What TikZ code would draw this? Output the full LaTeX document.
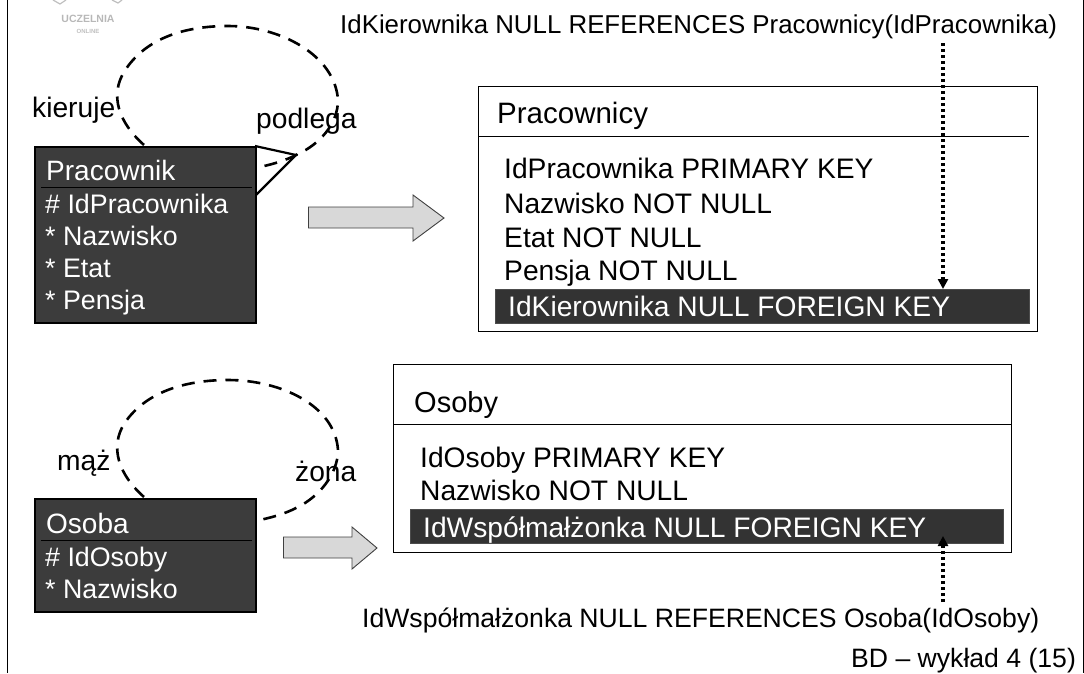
\documentclass[tikz,border=0pt]{standalone}
\usepackage{fontspec}
\setmainfont{Liberation Sans}
\usetikzlibrary{arrows.meta}
\definecolor{dkfill}{HTML}{3C3C3C}
\definecolor{dkbar}{HTML}{333333}
\definecolor{blkfill}{HTML}{D8D8D8}
\tikzset{
  x=1pt,y=-1pt,
  txt/.style={anchor=base west,inner sep=0,font=\fontsize{28.2}{30}\selectfont,text=black},
  reftxt/.style={txt,font=\fontsize{26.6}{30}\selectfont},
  ttl/.style={txt,font=\fontsize{29.5}{30}\selectfont},
  wtxt/.style={txt,text=white},
  wtxts/.style={txt,text=white,font=\fontsize{26.8}{30}\selectfont},
  dk/.style={draw=black,line width=2.4pt,fill=dkfill},
  tbl/.style={draw=black,line width=1.2pt,fill=white},
  bar/.style={draw=black!70,line width=.7pt,fill=dkbar},
  rel/.style={draw=black,line width=2.6pt,dash pattern=on 13pt off 9pt},
  blk/.style={draw=black!75,line width=.9pt,fill=blkfill},
  dots/.style={draw=black,line width=3.2pt,dash pattern=on 3pt off 3pt,-{Triangle[length=10pt,width=10pt]}},
  sep/.style={draw=black,line width=.8pt},
  logoline/.style={draw=black!25,line width=1.2pt}
}
\begin{document}
\begin{tikzpicture}
\useasboundingbox (0,0) rectangle (1084,673);
% page frame lines
\draw[black,line width=1pt] (7.5,0) -- (7.5,673);
\draw[black,line width=1pt] (1083,0) -- (1083,673);
% logo
\draw[logoline] (53,0) -- (60,4) -- (66,0);
\draw[logoline] (112,0) -- (118,3) -- (122,0);
\node[inner sep=0,text=black!28,font=\fontsize{10.5}{11}\selectfont\bfseries] (logo1) at (88,19) {UCZELNIA};
\node[inner sep=0,text=black!25,font=\fontsize{6}{7}\selectfont\bfseries] (logo2) at (88,31) {ONLINE};
% upper loop
\draw[rel] (144,145) .. controls (118,122) and (110,95) .. (124,72)
  .. controls (145,38) and (185,26) .. (228,26)
  .. controls (280,26) and (335,55) .. (338,100)
  .. controls (338,125) and (318,145) .. (298,154)
  .. controls (285,161) and (270,165) .. (255,168);
% triangle
\draw[black,line width=2.2pt] (255,146) -- (296,155) -- (255,196);
% Pracownik
\node[dk,minimum width=221pt,minimum height=176pt,inner sep=0,anchor=north west] (prac) at (33.5,146) {};
\draw[black,line width=.8pt] (41,187.7) -- (252,187.7);
\node[wtxts,font=\fontsize{28}{30}\selectfont] (p0) at (46,180) {Pracownik};
\node[wtxts] (p1) at (45,213) {\# IdPracownika};
\node[wtxts] (p2) at (45,245) {* Nazwisko};
\node[wtxts] (p3) at (45,277) {* Etat};
\node[wtxts] (p4) at (45,309) {* Pensja};
\node[txt] (kier) at (32,117) {kieruje};
\node[txt] (podl) at (256,128) {podlega};
% arrow 1
\draw[blk] (308.5,207) -- (413,207) -- (413,195) -- (444,218) -- (413,241) -- (413,228) -- (308.5,228) -- cycle;
% Pracownicy table
\node[tbl,minimum width=559pt,minimum height=245pt,inner sep=0,anchor=north west] (t1) at (477.5,86) {};
\draw[sep] (478,136.7) -- (1029,136.7);
\node[ttl] (t10) at (497,123) {Pracownicy};
\node[txt] (t11) at (504,178) {IdPracownika PRIMARY KEY};
\node[txt] (t12) at (504,213) {Nazwisko NOT NULL};
\node[txt] (t13) at (504,247) {Etat NOT NULL};
\node[txt] (t14) at (504,280) {Pensja NOT NULL};
\node[bar,minimum width=534pt,minimum height=34pt,inner sep=0,anchor=north west] (b1) at (495,289) {};
\node[wtxt] (b1t) at (508,316) {IdKierownika NULL FOREIGN KEY};
\node[reftxt,font=\fontsize{25.85}{30}\selectfont] (ref1) at (340,33) {IdKierownika NULL REFERENCES Pracownicy(IdPracownika)};
\coordinate (c1) at (943,43);
\coordinate (c1e) at (943,289);
\draw[dots] (c1) -- (c1e);
% lower loop
\draw[rel] (144,497) .. controls (118,474) and (110,447) .. (124,424)
  .. controls (145,392) and (185,380) .. (228,380)
  .. controls (280,380) and (335,405) .. (338,450)
  .. controls (338,475) and (318,497) .. (298,507)
  .. controls (285,514) and (270,518) .. (255,521);
% Osoba
\node[dk,minimum width=221pt,minimum height=113pt,inner sep=0,anchor=north west] (os) at (33.5,498) {};
\draw[black,line width=.8pt] (41,540.7) -- (252,540.7);
\node[wtxts,font=\fontsize{28}{30}\selectfont] (o0) at (46,533) {Osoba};
\node[wtxts] (o1) at (45,566) {\# IdOsoby};
\node[wtxts] (o2) at (45,598) {* Nazwisko};
\node[txt] (maz) at (57,470) {mąż};
\node[txt] (zona) at (295,481) {żona};
% arrow 2
\draw[blk] (283.5,537) -- (352,537) -- (352,527) -- (377,548) -- (352,569) -- (352,558) -- (283.5,558) -- cycle;
% Osoby table
\node[tbl,minimum width=618pt,minimum height=188pt,inner sep=0,anchor=north west] (t2) at (393,364) {};
\draw[sep] (393,424) -- (1011,424);
\node[ttl,font=\fontsize{29}{30}\selectfont] (t20) at (414,412) {Osoby};
\node[txt] (t21) at (420,467) {IdOsoby PRIMARY KEY};
\node[txt] (t22) at (420,500) {Nazwisko NOT NULL};
\node[bar,minimum width=593pt,minimum height=34pt,inner sep=0,anchor=north west] (b2) at (410,509) {};
\node[wtxt] (b2t) at (423,537) {IdWspółmałżonka NULL FOREIGN KEY};
\node[reftxt] (ref2) at (362,627) {IdWspółmałżonka NULL REFERENCES Osoba(IdOsoby)};
\coordinate (c2) at (943,602);
\coordinate (c2e) at (943,536);
\draw[dots] (c2) -- (c2e);
\node[reftxt] (foot) at (851,667) {BD – wykład 4 (15)};
\end{tikzpicture}
\end{document}
